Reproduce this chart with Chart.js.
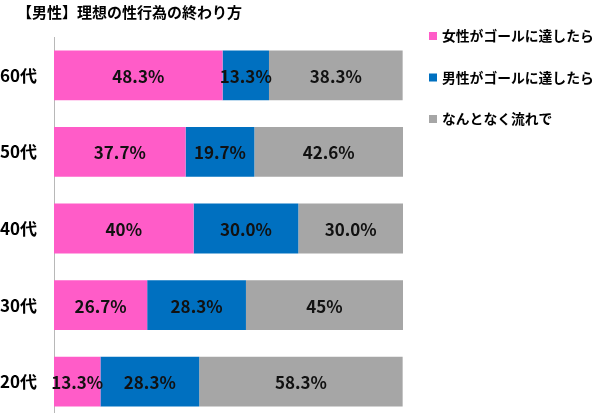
<!DOCTYPE html>
<html lang="ja">
<head>
<meta charset="utf-8">
<title>【男性】理想の性行為の終わり方</title>
<script src="https://cdn.jsdelivr.net/npm/chart.js@4/dist/chart.umd.min.js"></script>
<style>
  html, body { margin: 0; padding: 0; background: #fff; overflow: hidden; }
  #chart { display: block; }
</style>
</head>
<body>
<canvas id="chart" width="600" height="420"></canvas>
<script>
// ============================================
// DATA
// ============================================
const chartTitle = '【男性】理想の性行為の終わり方';
const ages = ['60代', '50代', '40代', '30代', '20代'];

const seriesNames = ['女性がゴールに達したら', '男性がゴールに達したら', 'なんとなく流れで'];
const seriesColors = ['#ff5cc8', '#0070c0', '#a6a6a6'];

const womanFinish = [48.3, 37.7, 40, 26.7, 13.3];
const manFinish = [13.3, 19.7, 30.0, 28.3, 28.3];
const naturally = [38.3, 42.6, 30.0, 45, 58.3];

// labels as printed on the bars (the source mixes "40%" and "30.0%")
const womanLabels = ['48.3%', '37.7%', '40%', '26.7%', '13.3%'];
const manLabels = ['13.3%', '19.7%', '30.0%', '28.3%', '28.3%'];
const naturallyLabels = ['38.3%', '42.6%', '30.0%', '45%', '58.3%'];

const FONT = '"Noto Sans CJK JP", "Noto Sans", sans-serif';

// ============================================
// PLUGINS
// ============================================
// title + legend on the right, drawn by hand so they sit where the original has them
const headerLegend = {
  id: 'headerLegend',
  afterDraw(chart) {
    const ctx = chart.ctx;
    ctx.save();
    ctx.fillStyle = '#000';
    ctx.textBaseline = 'middle';
    ctx.textAlign = 'left';
    ctx.font = 'bold 15px ' + FONT;
    ctx.fillText(chartTitle, 17, 12);

    ctx.font = 'bold 13.8px ' + FONT;
    chart.data.datasets.forEach((ds, i) => {
      const y = 36 + i * 41.5;
      ctx.fillStyle = ds.backgroundColor;
      ctx.fillRect(429, y - 4, 8, 8);
      ctx.fillStyle = '#000';
      ctx.fillText(ds.label, 442, y);
    });
    ctx.restore();
  }
};

// value labels in the middle of each segment
const segmentLabels = {
  id: 'segmentLabels',
  afterDatasetsDraw(chart) {
    const ctx = chart.ctx;
    ctx.save();
    ctx.font = 'bold 17px ' + FONT;
    ctx.fillStyle = '#111';
    ctx.textAlign = 'center';
    ctx.textBaseline = 'middle';
    chart.data.datasets.forEach((ds, i) => {
      const meta = chart.getDatasetMeta(i);
      meta.data.forEach((bar, j) => {
        const x = (bar.x + bar.base) / 2;
        ctx.fillText(ds.texts[j], x, bar.y + 1);
      });
    });
    ctx.restore();
  }
};

// ============================================
// CHART
// ============================================
const datasets = [
  { label: seriesNames[0], data: womanFinish, texts: womanLabels, backgroundColor: seriesColors[0] },
  { label: seriesNames[1], data: manFinish, texts: manLabels, backgroundColor: seriesColors[1] },
  { label: seriesNames[2], data: naturally, texts: naturallyLabels, backgroundColor: seriesColors[2] }
];

new Chart(document.getElementById('chart'), {
  type: 'bar',
  data: {
    labels: ages,
    datasets: datasets.map(d => ({ ...d, borderWidth: 0, barPercentage: 0.65, categoryPercentage: 1 }))
  },
  options: {
    indexAxis: 'y',
    responsive: false,
    animation: false,
    layout: { padding: { top: 37, right: 197, bottom: 0, left: 0 } },
    plugins: {
      legend: { display: false },
      title: { display: false },
      tooltip: { enabled: false }
    },
    scales: {
      x: { stacked: true, min: 0, max: 100, display: false },
      y: {
        stacked: true,
        grid: { display: false, drawTicks: false },
        border: { display: true, color: '#b8b8b8', width: 1 },
        ticks: { color: '#000', padding: 17, font: { family: FONT, size: 17, weight: 'bold' } },
        afterFit(scale) {
          // fixed axis width, and no extra room above/below for the tick labels
          scale.width = 54;
          scale.paddingTop = 0;
          scale.paddingBottom = 0;
        }
      }
    }
  },
  plugins: [headerLegend, segmentLabels]
});
</script>
</body>
</html>
